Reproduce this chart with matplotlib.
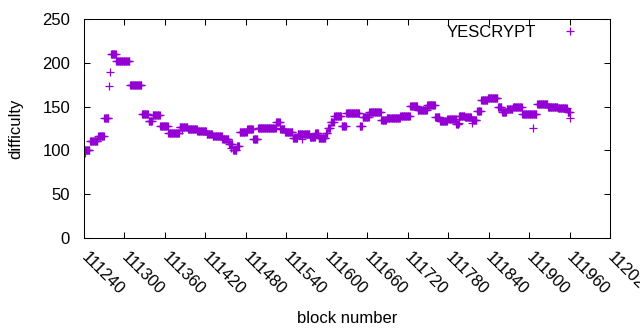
import numpy as np
import matplotlib
matplotlib.use('Agg')
import matplotlib.pyplot as plt
import matplotlib.transforms as mtransforms

plt.rcParams['font.family'] = ['Liberation Sans', 'DejaVu Sans']

# runs of blocks with the same difficulty (start block, end block, difficulty)
run_start = [111240, 111249, 111261, 111270, 111280, 111288, 111308, 111326, 111336, 111342,
             111353, 111365, 111382, 111394, 111408, 111422, 111431, 111445, 111455, 111461,
             111467, 111471, 111482, 111491, 111498, 111525, 111531, 111538, 111550, 111557,
             111575, 111583, 111588, 111599, 111602, 111606, 111611, 111622, 111629, 111649,
             111653, 111663, 111681, 111689, 111709, 111724, 111735, 111749, 111761, 111768,
             111779, 111792, 111796, 111805, 111815, 111823, 111829, 111839, 111854, 111860,
             111867, 111876, 111890, 111912, 111928, 111943, 111957]
run_end = [111248, 111260, 111269, 111276, 111287, 111307, 111325, 111335, 111341, 111352,
           111364, 111381, 111393, 111407, 111421, 111430, 111444, 111454, 111460, 111466,
           111470, 111481, 111490, 111497, 111524, 111530, 111537, 111549, 111556, 111574,
           111582, 111587, 111598, 111601, 111605, 111610, 111621, 111628, 111648, 111652,
           111662, 111680, 111688, 111708, 111723, 111734, 111748, 111760, 111767, 111778,
           111791, 111795, 111804, 111814, 111822, 111828, 111838, 111853, 111859, 111866,
           111875, 111889, 111911, 111927, 111942, 111956, 111960]
run_diff = [101, 111, 117, 137, 210, 202, 175, 142, 134, 140,
            128, 120, 127, 124, 122, 119, 116, 113, 107, 100,
            105, 121, 124, 113, 126, 132, 125, 121, 114, 119,
            115, 120, 114, 120, 126, 132, 139, 128, 143, 128,
            138, 144, 135, 137, 139, 151, 146, 152, 138, 134,
            136, 130, 139, 138, 135, 145, 157, 160, 150, 144,
            147, 150, 141, 153, 149, 148, 144]

# single blocks off the runs
odd_block = [111242, 111277, 111278, 111386, 111458, 111563, 111796, 111815, 111906, 111960]
odd_diff = [97, 174, 190, 123, 103, 113, 131, 131, 126, 137]

blocks = []
diffs = []
for s, e, d in zip(run_start, run_end, run_diff):
    for b in range(s, e + 1):
        blocks.append(b)
        diffs.append(d)
blocks += odd_block
diffs += odd_diff

xticks = list(range(111240, 112021, 60))

fig = plt.figure(figsize=(6.4, 3.3), dpi=100)
ax = fig.add_axes([84 / 640, 1 - 238 / 330, 526 / 640, 219 / 330])

ax.plot(blocks, diffs, '+', color='#9400d3', markersize=5.5, markeredgewidth=0.9,
        label='YESCRYPT')

ax.set_xlim(111240, 112020)
ax.set_ylim(0, 250)
ax.set_xticks(xticks)
ax.set_yticks([0, 50, 100, 150, 200, 250])
ax.tick_params(direction='in', length=4, width=0.75, top=True, right=True, labelsize=12)
ax.tick_params(axis='y', pad=10)
ax.tick_params(axis='x', pad=8)
shift = mtransforms.ScaledTranslation(5 / 100, 0, fig.dpi_scale_trans)
for lab in ax.get_xticklabels():
    lab.set_rotation(-45)
    lab.set_ha('left')
    lab.set_va('top')
    lab.set_rotation_mode('anchor')
    lab.set_transform(lab.get_transform() + shift)
for sp in ax.spines.values():
    sp.set_linewidth(0.75)

ax.set_xlabel('block number', fontsize=12, labelpad=9)
ax.set_ylabel('difficulty', fontsize=12, labelpad=14)

ax.legend(loc='upper right', frameon=False, markerfirst=False, fontsize=12,
          handlelength=2.0, handletextpad=1.0, borderaxespad=0.0,
          bbox_to_anchor=(0.968, 1.005))

fig.savefig('out.png', dpi=100)
